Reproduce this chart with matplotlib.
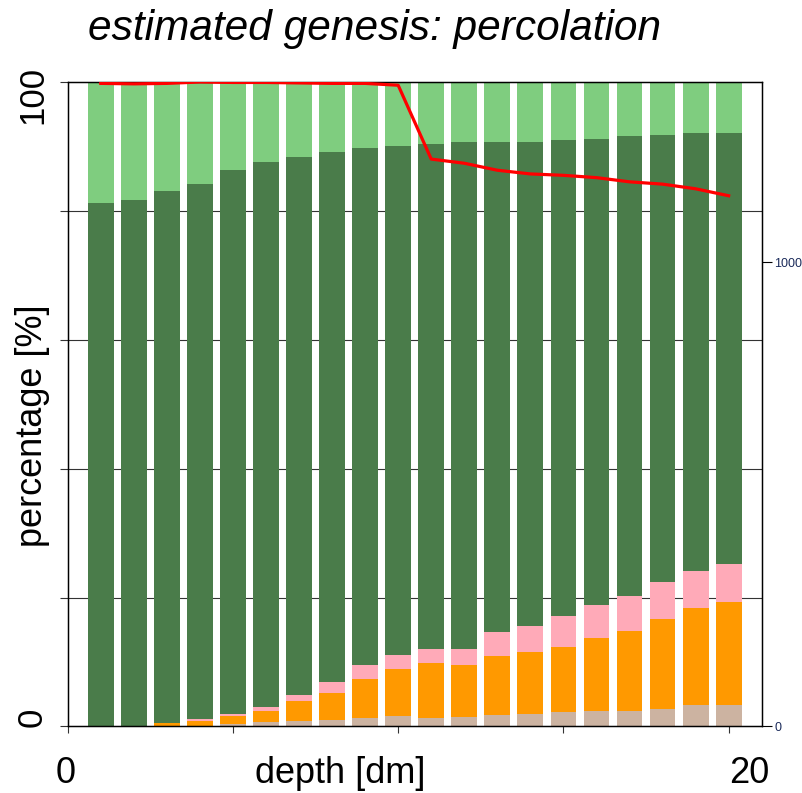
import numpy as np
import matplotlib
matplotlib.use("Agg")
import matplotlib.pyplot as plt

plt.rcParams["font.family"] = ["Liberation Sans", "DejaVu Sans"]

# depth classes [dm]
depth = np.arange(1, 21)

# genesis shares per depth [%], bottom to top
tan = [0, 0, 0, 0.1, 0.4, 0.7, 0.9, 1.0, 1.3, 1.6,
       1.3, 1.5, 1.8, 1.9, 2.2, 2.4, 2.4, 2.7, 3.3, 3.3]
orange = [0, 0, 0.5, 0.8, 1.2, 1.7, 3.1, 4.2, 6.1, 7.3,
          8.5, 8.0, 9.2, 9.6, 10.2, 11.4, 12.4, 13.9, 15.1, 16.0]
pink = [0, 0.15, 0.1, 0.3, 0.4, 0.6, 0.9, 1.7, 2.1, 2.2,
        2.2, 2.5, 3.6, 4.1, 4.8, 5.1, 5.5, 5.8, 5.7, 5.9]
percolation = [81.2, 81.55, 82.5, 83.0, 84.4, 84.6, 83.5, 82.3, 80.3, 79.0,
               78.4, 78.7, 76.1, 75.1, 73.8, 72.3, 71.3, 69.4, 68.0, 66.9]
light = [18.8, 18.3, 16.9, 15.8, 13.6, 12.4, 11.6, 10.8, 10.2, 9.9,
         9.6, 9.3, 9.3, 9.3, 9.0, 8.8, 8.4, 8.2, 7.9, 7.9]

# red line on the right axis
red_vals = [1385, 1384, 1385, 1388, 1387, 1387, 1386, 1385, 1385, 1381,
            1222, 1213, 1198, 1190, 1187, 1182, 1173, 1168, 1158, 1143]

layers = [tan, orange, pink, percolation, light]
colors = ["#CCB3A1", "#FF9900", "#FFAAB8", "#4A7C4A", "#7FCD7F"]

W, H = 803, 793
fig = plt.figure(figsize=(W / 100, H / 100), dpi=100)
ax = fig.add_axes([0.0843, 0.0839, 0.8643, 0.8127])

for y in [20, 40, 60, 80]:
    ax.axhline(y, color="#333333", lw=0.8, zorder=0)

bottom = np.zeros(len(depth))
for vals, c in zip(layers, colors):
    ax.bar(depth, vals, width=0.78, bottom=bottom, color=c, zorder=2)
    bottom += np.array(vals)

ax.set_xlim(0, 21)
ax.set_ylim(0, 100)
ax.set_xticks([0, 5, 10, 15, 20])
ax.set_xticklabels([])
ax.set_yticks([0, 20, 40, 60, 80, 100])
ax.set_yticklabels([])
ax.tick_params(axis="x", length=5, color="#333333")
ax.tick_params(axis="y", length=5.5, color="#333333")
for s in ax.spines.values():
    s.set_linewidth(1.0)

# axis labels placed like the original (R style margins)
fig.text(66 / W, 1 - 783 / H, "0", fontsize=26, ha="center", va="baseline")
fig.text(749 / W, 1 - 783 / H, "20", fontsize=26, ha="center", va="baseline")
fig.text(340 / W, 1 - 783 / H, "depth [dm]", fontsize=26, ha="center",
         va="baseline")
fig.text(42 / W, 1 - 95 / H, "100", fontsize=25, rotation=90,
         rotation_mode="anchor", ha="center", va="baseline")
fig.text(42 / W, 1 - 717 / H, "0", fontsize=25, rotation=90,
         rotation_mode="anchor", ha="center", va="baseline")
ax.set_ylabel("percentage [%]", fontsize=26)
ax.yaxis.set_label_coords(-0.026, 0.466)

ax2 = ax.twinx()
ax2.plot(depth, red_vals, color="#FF0000", lw=2.3, zorder=5)
ax2.set_ylim(0, 1388)
ax2.set_yticks([0, 1000])
ax2.set_yticklabels(["0", "1000"], fontsize=9, color="#1a2a5a")
ax2.tick_params(axis="y", length=7, pad=2)

fig.text(0.11, 0.963, "estimated genesis: percolation", fontsize=30.5,
         style="italic", ha="left", va="center")

fig.savefig("out.png", dpi=100)
